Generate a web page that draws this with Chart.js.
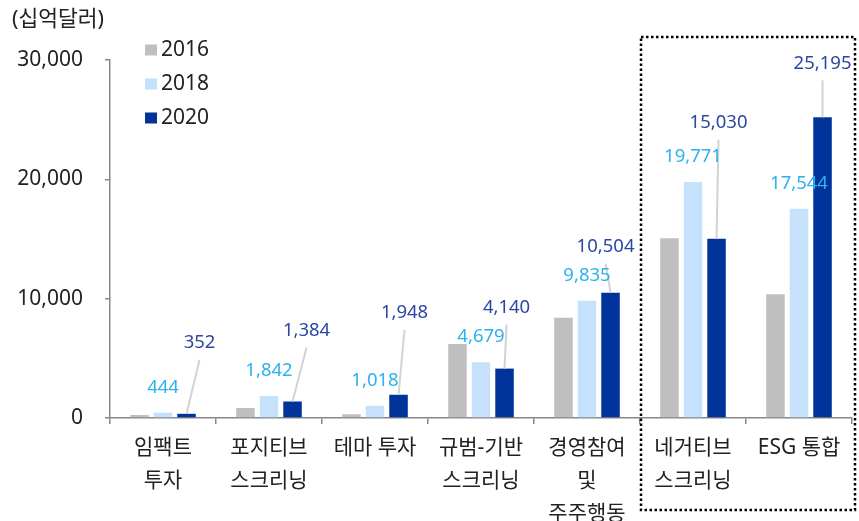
<!DOCTYPE html>
<html>
<head>
<meta charset="utf-8">
<script src="https://cdn.jsdelivr.net/npm/chart.js@4"></script>
<style>
  html, body { margin: 0; padding: 0; background: #fff; }
</style>
</head>
<body>
<canvas id="grafico" width="859" height="521"></canvas>
<script>
const categorias = [['임팩트', '투자'], ['포지티브', '스크리닝'], '테마 투자', ['규범-기반', '스크리닝'], ['경영참여', '및', '주주행동'], ['네거티브', '스크리닝'], 'ESG 통합'];
const anos = ['2016', '2018', '2020'];
const valores_2016 = [250, 840, 310, 6200, 8400, 15060, 10370];
const valores_2018 = [444, 1842, 1018, 4679, 9835, 19771, 17544];
const valores_2020 = [352, 1384, 1948, 4140, 10504, 15030, 25195];
const ticks_y = [0, 10000, 20000, 30000];
const unidade = '(십억달러)';

// deslocamento (px) dos rótulos de 2020 em relação ao topo da barra
const desloc_2020 = [[13, -71], [14, -71], [6, -82], [2, -61], [-5, -46], [2, -116], [0, -54]];

const fonte = "'Noto Sans', 'Noto Sans CJK KR', sans-serif";
const cores = ['#bfbfbf', '#c5e1fb', '#00349a'];
const cor_rotulo_2018 = '#2cb2ee';
const cor_rotulo_2020 = '#2b47a3';

const fmt = v => v.toLocaleString('en-US');

const pluginExtras = {
    id: 'extras',
    afterDatasetsDraw(chart) {
        const ctx = chart.ctx;
        const m2018 = chart.getDatasetMeta(1).data;
        const m2020 = chart.getDatasetMeta(2).data;
        ctx.save();
        // linhas guia de 2020
        ctx.strokeStyle = '#d3d3d3';
        ctx.lineWidth = 2;
        m2020.forEach((bar, i) => {
            const lx = bar.x + desloc_2020[i][0];
            const ly = bar.y + desloc_2020[i][1];
            ctx.beginPath();
            ctx.moveTo(lx, ly + 17);
            ctx.lineTo(bar.x, bar.y);
            ctx.stroke();
        });
        ctx.font = '18.5px ' + fonte;
        ctx.textAlign = 'center';
        ctx.textBaseline = 'middle';
        ctx.fillStyle = cor_rotulo_2018;
        m2018.forEach((bar, i) => {
            ctx.fillText(fmt(valores_2018[i]), bar.x, bar.y - 25);
        });
        ctx.fillStyle = cor_rotulo_2020;
        m2020.forEach((bar, i) => {
            ctx.fillText(fmt(valores_2020[i]), bar.x + desloc_2020[i][0], bar.y + desloc_2020[i][1]);
        });

        // unidade
        ctx.fillStyle = '#222';
        ctx.font = '21.5px ' + fonte;
        ctx.textAlign = 'left';
        ctx.fillText(unidade, 12, 20);

        // legenda
        ctx.font = '21px ' + fonte;
        anos.forEach((ano, i) => {
            const y = 50 + i * 34;
            ctx.fillStyle = cores[i];
            ctx.fillRect(145, y - 5.5, 12, 11);
            ctx.fillStyle = '#222';
            ctx.fillText(ano, 161, y);
        });

        // caixa pontilhada
        const x = chart.scales.x;
        const esq = (x.getPixelForValue(4) + x.getPixelForValue(5)) / 2;
        ctx.strokeStyle = '#000';
        ctx.lineWidth = 2.5;
        ctx.setLineDash([2.5, 2.5]);
        ctx.strokeRect(esq + 1, 37, x.right + 2 - esq, 473);
        ctx.restore();
    }
};

new Chart(document.getElementById('grafico'), {
    type: 'bar',
    data: {
        labels: categorias,
        datasets: [{
            label: anos[0],
            data: valores_2016,
            backgroundColor: cores[0]
        }, {
            label: anos[1],
            data: valores_2018,
            backgroundColor: cores[1]
        }, {
            label: anos[2],
            data: valores_2020,
            backgroundColor: cores[2]
        }]
    },
    options: {
        responsive: false,
        devicePixelRatio: 1,
        animation: false,
        categoryPercentage: 0.666,
        barPercentage: 0.787,
        layout: {
            padding: { top: 60, right: 7, left: 0, bottom: 0 }
        },
        plugins: {
            legend: { display: false },
            tooltip: { enabled: false }
        },
        scales: {
            x: {
                afterFit: s => { s.height = 103; },
                grid: {
                    drawOnChartArea: false,
                    tickLength: 6,
                    color: '#888',
                    lineWidth: 1.5
                },
                border: { color: '#888', width: 1.5 },
                ticks: {
                    color: '#222',
                    padding: 7,
                    maxRotation: 0,
                    autoSkip: false,
                    font: { family: fonte, size: 21, lineHeight: 1.58 }
                }
            },
            y: {
                min: 0,
                max: 30000,
                afterFit: s => { s.width = 110; },
                afterBuildTicks: s => { s.ticks = ticks_y.map(v => ({ value: v })); },
                grid: {
                    drawOnChartArea: false,
                    tickLength: 5,
                    color: '#888',
                    lineWidth: 1.5
                },
                border: { color: '#888', width: 1.5 },
                ticks: {
                    color: '#222',
                    padding: 22,
                    callback: v => fmt(v),
                    font: { family: fonte, size: 21 }
                }
            }
        }
    },
    plugins: [pluginExtras]
});
</script>
</body>
</html>
